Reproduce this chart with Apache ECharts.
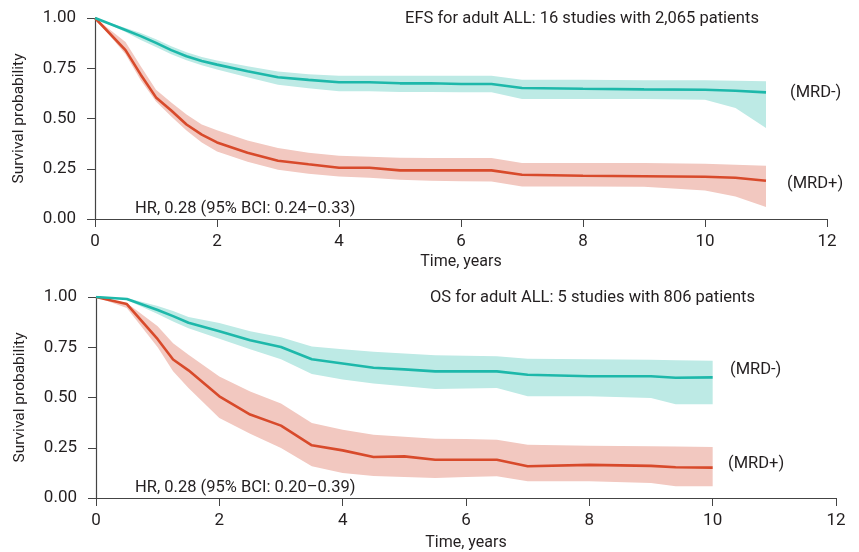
<!DOCTYPE html>
<html>
<head>
<meta charset="utf-8">
<script src="https://cdn.jsdelivr.net/npm/echarts@6/dist/echarts.min.js"></script>
<style>
  html, body { margin: 0; padding: 0; background: #fff; }
  #container { width: 859px; height: 552px; }
</style>
</head>
<body>
<div id="container"></div>
<script>
var dom = document.getElementById('container');
var myChart = echarts.init(dom, null, { renderer: 'canvas' });

// EFS panel (top)
var efsTime = [0, 0.5, 0.75, 1, 1.25, 1.5, 1.75, 2, 2.5, 3, 3.5, 4, 4.5, 5, 5.5, 6, 6.5, 7, 8, 9, 10, 10.5, 11];
var efsNeg = [1.0, 0.94, 0.91, 0.876, 0.84, 0.81, 0.786, 0.768, 0.735, 0.705, 0.692, 0.68, 0.68, 0.675, 0.675, 0.672, 0.672, 0.652, 0.648, 0.645, 0.643, 0.638, 0.63];
var efsNegLo = [1.0, 0.93, 0.89, 0.856, 0.82, 0.79, 0.765, 0.744, 0.705, 0.668, 0.65, 0.635, 0.635, 0.632, 0.632, 0.63, 0.63, 0.597, 0.597, 0.597, 0.593, 0.552, 0.453];
var efsNegHi = [1.0, 0.95, 0.925, 0.894, 0.86, 0.83, 0.806, 0.788, 0.76, 0.734, 0.72, 0.713, 0.713, 0.713, 0.713, 0.713, 0.713, 0.693, 0.693, 0.69, 0.69, 0.688, 0.685];
var efsPos = [1.0, 0.84, 0.718, 0.605, 0.54, 0.47, 0.42, 0.381, 0.33, 0.29, 0.272, 0.255, 0.255, 0.242, 0.242, 0.242, 0.242, 0.22, 0.215, 0.213, 0.21, 0.205, 0.19];
var efsPosLo = [1.0, 0.82, 0.69, 0.585, 0.51, 0.44, 0.38, 0.336, 0.285, 0.245, 0.225, 0.212, 0.205, 0.195, 0.19, 0.188, 0.187, 0.162, 0.162, 0.16, 0.142, 0.112, 0.06];
var efsPosHi = [1.0, 0.88, 0.76, 0.643, 0.58, 0.52, 0.47, 0.441, 0.39, 0.353, 0.33, 0.315, 0.31, 0.305, 0.303, 0.303, 0.303, 0.279, 0.279, 0.278, 0.275, 0.27, 0.265];

// OS panel (bottom)
var osTime = [0, 0.5, 1, 1.25, 1.5, 2, 2.5, 3, 3.5, 4, 4.5, 5, 5.5, 6, 6.5, 7, 8, 9, 9.4, 10];
var osNeg = [1.0, 0.99, 0.935, 0.905, 0.872, 0.829, 0.785, 0.751, 0.69, 0.669, 0.648, 0.64, 0.63, 0.63, 0.63, 0.613, 0.606, 0.606, 0.598, 0.60];
var osNegLo = [1.0, 0.985, 0.915, 0.878, 0.845, 0.792, 0.74, 0.69, 0.617, 0.59, 0.57, 0.556, 0.542, 0.545, 0.547, 0.506, 0.506, 0.498, 0.467, 0.467];
var osNegHi = [1.0, 0.995, 0.955, 0.93, 0.90, 0.871, 0.83, 0.80, 0.754, 0.74, 0.728, 0.719, 0.71, 0.708, 0.705, 0.693, 0.69, 0.688, 0.685, 0.683];
var osPos = [1.0, 0.965, 0.79, 0.689, 0.635, 0.506, 0.415, 0.36, 0.262, 0.237, 0.204, 0.207, 0.19, 0.19, 0.19, 0.158, 0.165, 0.16, 0.153, 0.151];
var osPosLo = [1.0, 0.945, 0.75, 0.63, 0.547, 0.398, 0.32, 0.249, 0.158, 0.124, 0.11, 0.105, 0.1, 0.104, 0.108, 0.083, 0.083, 0.075, 0.058, 0.058];
var osPosHi = [1.0, 0.97, 0.854, 0.77, 0.713, 0.605, 0.53, 0.47, 0.373, 0.34, 0.315, 0.305, 0.295, 0.293, 0.29, 0.265, 0.26, 0.258, 0.256, 0.254];

var FONT = "Roboto, 'Liberation Sans', sans-serif";
var TXT = '#231f20';
var tealLine = '#1db8aa', tealBand = '#bdeae5';
var redLine = '#d84a2b', redBand = '#f2c8c0';

function pairs(t, v) {
    return t.map(function (x, i) { return [x, v[i]]; });
}

// confidence band: one polygon through the upper edge and back along the lower edge
function band(idx, t, lo, hi, color) {
    return {
        type: 'custom', xAxisIndex: idx, yAxisIndex: idx, silent: true, z: 1,
        data: t.map(function (x, i) { return [x, lo[i], hi[i]]; }),
        renderItem: function (params, api) {
            if (params.dataIndexInside !== 0) return;
            var up = [], down = [];
            for (var i = 0; i < t.length; i++) {
                up.push(api.coord([t[i], hi[i]]));
                down.push(api.coord([t[i], lo[i]]));
            }
            return {
                type: 'polygon',
                shape: { points: up.concat(down.reverse()) },
                style: { fill: color, stroke: null }
            };
        }
    };
}
function curve(idx, t, v, color) {
    return {
        type: 'line', xAxisIndex: idx, yAxisIndex: idx,
        data: pairs(t, v), symbol: 'none', silent: true,
        lineStyle: { color: color, width: 2.6 }, z: 5
    };
}

function xAx(idx, gap) {
    return {
        type: 'value', gridIndex: idx, min: 0, max: 12, interval: 2,
        name: 'Time, years', nameLocation: 'middle', nameGap: gap,
        nameTextStyle: { fontFamily: FONT, fontSize: 16, color: TXT },
        axisLine: { lineStyle: { color: '#444', width: 1.2 } },
        axisTick: { length: 8, lineStyle: { color: '#444' } },
        axisLabel: { fontFamily: FONT, fontSize: 17, color: TXT, margin: 14 },
        splitLine: { show: false }
    };
}
function yAx(idx) {
    return {
        type: 'value', gridIndex: idx, min: 0, max: 1, interval: 0.25,
        name: 'Survival probability', nameLocation: 'middle', nameGap: 68,
        nameTextStyle: { fontFamily: FONT, fontSize: 15.5, color: TXT },
        axisLine: { show: true, lineStyle: { color: '#444', width: 1.2 } },
        axisTick: { show: true, length: 8, lineStyle: { color: '#444' } },
        axisLabel: {
            fontFamily: FONT, fontSize: 17, color: TXT, margin: 19,
            formatter: function (v) { return v.toFixed(2); }
        },
        splitLine: { show: false }
    };
}

function label(x, y, text) {
    return {
        type: 'text', left: x, top: y, z: 100,
        style: { text: text, font: '16.5px ' + FONT, fill: TXT }
    };
}

var option = {
    animation: false,
    backgroundColor: '#fff',
    grid: [
        { left: 95, right: 32, top: 18, height: 201 },
        { left: 96, right: 23, top: 297, height: 201 }
    ],
    xAxis: [xAx(0, 35), xAx(1, 37)],
    yAxis: [yAx(0), yAx(1)],
    graphic: [
        label(405, 10, 'EFS for adult ALL: 16 studies with 2,065 patients'),
        label(135, 200, 'HR, 0.28 (95% BCI: 0.24\u20130.33)'),
        label(790, 84, '(MRD-)'),
        label(787, 175, '(MRD+)'),
        label(430, 289, 'OS for adult ALL: 5 studies with 806 patients'),
        label(135, 479, 'HR, 0.28 (95% BCI: 0.20\u20130.39)'),
        label(730, 361, '(MRD-)'),
        label(728, 455, '(MRD+)')
    ],
    series: [
        band(0, efsTime, efsPosLo, efsPosHi, redBand),
        band(0, efsTime, efsNegLo, efsNegHi, tealBand),
        curve(0, efsTime, efsPos, redLine),
        curve(0, efsTime, efsNeg, tealLine),
        band(1, osTime, osPosLo, osPosHi, redBand),
        band(1, osTime, osNegLo, osNegHi, tealBand),
        curve(1, osTime, osPos, redLine),
        curve(1, osTime, osNeg, tealLine)
    ]
};

myChart.setOption(option);
</script>
</body>
</html>
